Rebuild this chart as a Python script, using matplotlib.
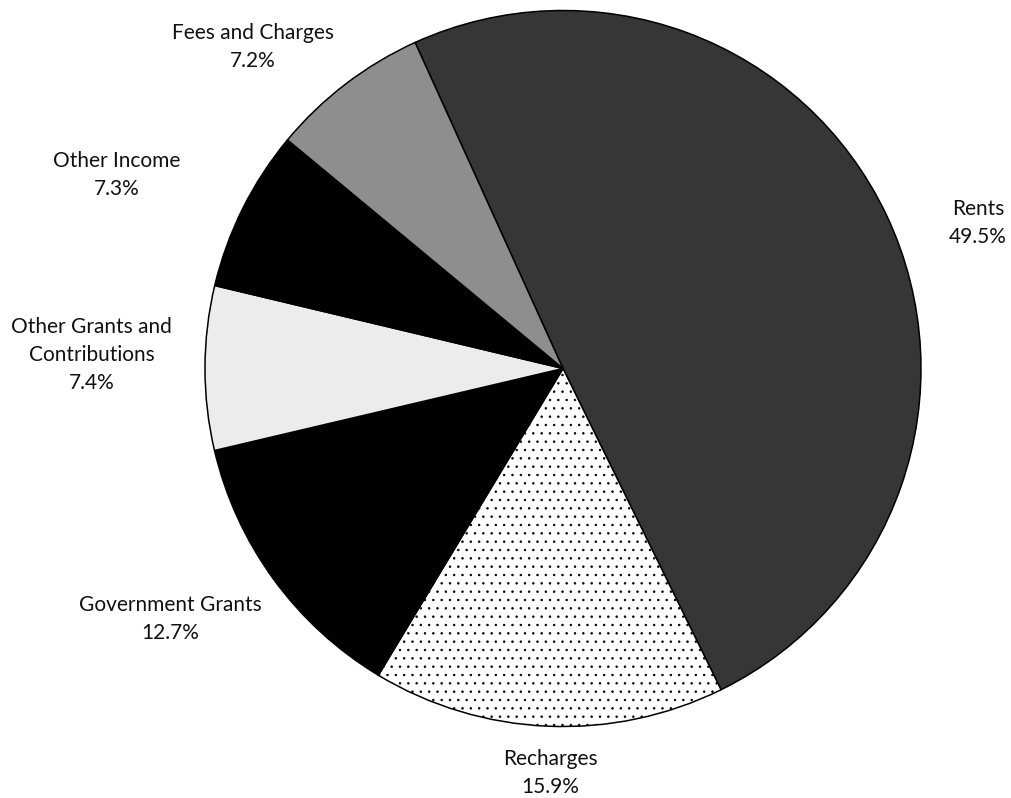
import matplotlib
matplotlib.use("Agg")
import matplotlib.pyplot as plt

# income split, in percent, clockwise from the Rents wedge
categories = ["Rents", "Recharges", "Government Grants",
              "Other Grants and\nContributions", "Other Income", "Fees and Charges"]
shares = [49.5, 15.9, 12.7, 7.4, 7.3, 7.2]

colours = ["#363636", "white", "black", "#ececec", "black", "#8e8e8e"]
hatches = [None, "..", None, None, None, None]

# where each label sits, in pie-radius units from the centre
label_xy = [(1.159, 0.406), (-0.036, -1.130), (-1.098, -0.700),
            (-1.316, 0.038), (-1.246, 0.540), (-0.866, 0.898)]

plt.rcParams["font.family"] = ["Lato", "DejaVu Sans"]
plt.rcParams["hatch.linewidth"] = 0.55

fig = plt.figure(figsize=(10.11, 7.98), dpi=100)
ax = fig.add_axes([0, 0, 1, 1])

wedges, _ = ax.pie(shares, colors=colours, startangle=114.4, counterclock=False,
                   wedgeprops=dict(edgecolor="black", linewidth=1.1))
for w, h in zip(wedges, hatches):
    if h:
        w.set_hatch(h)

for name, val, (lx, ly) in zip(categories, shares, label_xy):
    ax.text(lx, ly, f"{name}\n{val:.1f}%", ha="center", va="center",
            fontsize=15, linespacing=1.5, color="#111111")

ax.set_xlim(-1.5726, 1.2514)
ax.set_ylim(-1.1997, 1.0293)
ax.set_aspect("auto")
ax.axis("off")

fig.savefig("out.png", dpi=100)
